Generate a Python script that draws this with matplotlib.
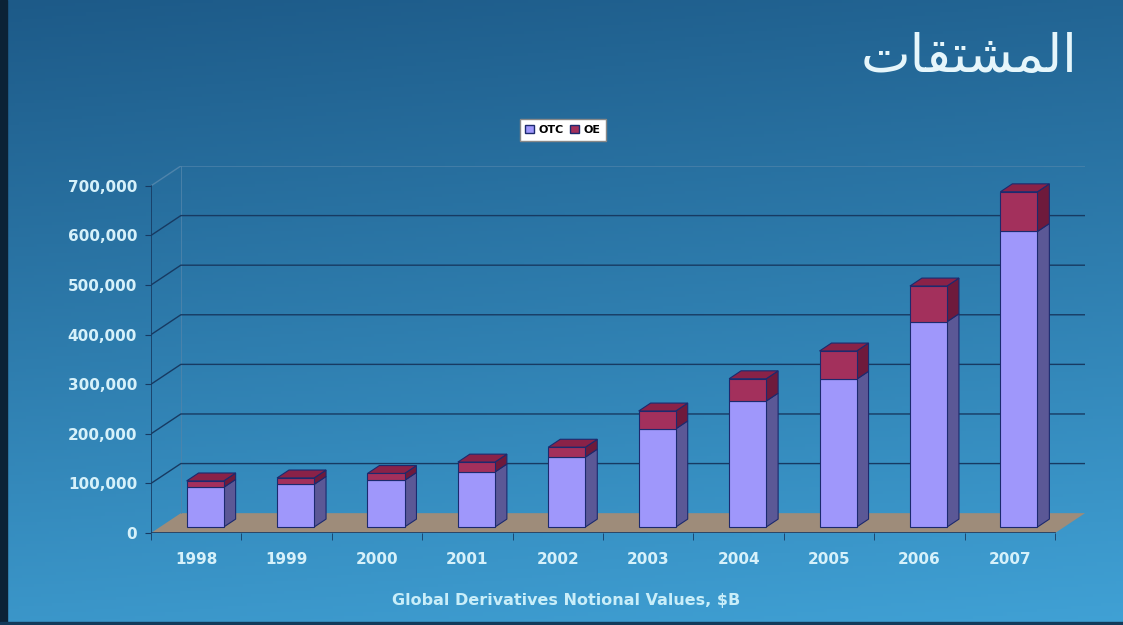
import numpy as np
import matplotlib.pyplot as plt
from matplotlib.patches import Polygon, Patch, Rectangle

years = ['1998', '1999', '2000', '2001', '2002', '2003', '2004', '2005', '2006', '2007']
otc = [80000, 86000, 94000, 111000, 141000, 198000, 254000, 298000, 414000, 596000]
oe = [13000, 13000, 14000, 20000, 20000, 36000, 45000, 57000, 72000, 80000]
yticks = [0, 100000, 200000, 300000, 400000, 500000, 600000, 700000]
title = '\ufe95\ufe8e\ufed8\ufe98\ufeb8\ufee4\ufedf\ufe8d'  # المشتقات (presentation forms, visual order)
xlabel = r'Global Derivatives Notional Values, \$B'

# 3d look
DX, DY = 0.33, 40000       # full depth offset in data units
d0, dd = 0.3, 0.4          # bar starts at 30% depth, bar depth 40%
w = 0.41

c_otc, c_otc_side = '#9f97fb', '#5b5896'
c_oe, c_oe_side, c_oe_top = '#a3305c', '#6e1a3c', '#8a2248'
edge = '#1c2a6e'
grid = '#173a62'
txt = '#d6f1fa'

W, H = 1123, 625
fig = plt.figure(figsize=(W / 100, H / 100), dpi=100)

# background gradient
bg = fig.add_axes([0, 0, 1, 1], zorder=-10)
yy = np.linspace(0, 1, 200)[:, None]
xx = np.linspace(0, 1, 300)[None, :]
top = np.array([29, 90, 136]) / 255
bot = np.array([64, 161, 213]) / 255
t = np.clip(yy * 0.85 + xx * 0.15, 0, 1)
img = top[None, None, :] * (1 - t[..., None]) + bot[None, None, :] * t[..., None]
bg.imshow(img, aspect='auto', extent=[0, 1, 1, 0])
bg.add_patch(Rectangle((0, 0), 0.006, 1, color='#0b2236', transform=bg.transAxes))
bg.add_patch(Rectangle((0, 0), 1, 0.005, color='#123a5a', transform=bg.transAxes))
bg.set_xlim(0, 1)
bg.set_ylim(1, 0)
bg.axis('off')

n = len(years)
ymax = yticks[-1]
ax = fig.add_axes([151 / W, (H - 533) / H, (1085 - 151) / W, (533 - 166) / H])
ax.set_xlim(0, n + DX)
ax.set_ylim(0, ymax + DY)
ax.patch.set_alpha(0)
for s in ax.spines.values():
    s.set_visible(False)

# floor
ax.add_patch(Polygon([(0, 0), (n, 0), (n + DX, DY), (DX, DY)],
                     closed=True, facecolor='#9e8c7a', edgecolor='none', zorder=1))
ax.plot([0, n], [0, 0], color=grid, lw=1.2, zorder=2)

# walls / gridlines
for v in yticks[1:]:
    c = grid if v < ymax else '#4f84ab'
    ax.plot([0, DX, n + DX], [v, v + DY, v + DY], color=c, lw=1, zorder=1.5)
ax.plot([DX, DX], [DY, ymax + DY], color='#4f84ab', lw=0.6, zorder=1.4)
ax.plot([0, 0], [0, ymax], color=grid, lw=1.2, zorder=2)

# bars
centers = np.arange(n) + 0.5
xf = centers + d0 * DX
base = d0 * DY
otc_a = np.array(otc)
oe_a = np.array(oe)
ax.bar(xf, otc_a, width=w, bottom=base, color=c_otc, edgecolor=edge, lw=0.8, zorder=5)
ax.bar(xf, oe_a, width=w, bottom=base + otc_a, color=c_oe, edgecolor=edge, lw=0.8, zorder=5)
ox, oy = dd * DX, dd * DY
for x, a, b in zip(xf, otc_a, oe_a):
    xr, xl = x + w / 2, x - w / 2
    for y0, y1, col in [(base, base + a, c_otc_side), (base + a, base + a + b, c_oe_side)]:
        ax.add_patch(Polygon([(xr, y0), (xr + ox, y0 + oy), (xr + ox, y1 + oy), (xr, y1)],
                             closed=True, facecolor=col, edgecolor=edge, lw=0.8, zorder=4))
    y1 = base + a + b
    ax.add_patch(Polygon([(xl, y1), (xl + ox, y1 + oy), (xr + ox, y1 + oy), (xr, y1)],
                         closed=True, facecolor=c_oe_top, edgecolor=edge, lw=0.8, zorder=4))

ax.set_yticks(yticks)
ax.set_yticklabels([f'{v:,}' for v in yticks], color=txt, fontsize=11, fontweight='heavy')
ax.set_xticks(centers)
ax.set_xticklabels(years, color=txt, fontsize=11, fontweight='heavy')
ax.set_xticks(np.arange(n + 1), minor=True)
ax.tick_params(axis='y', length=4, color=grid, pad=6)
ax.tick_params(axis='x', which='major', length=0, pad=14)
ax.tick_params(axis='x', which='minor', length=5, color=grid)

fig.text(566 / W, 1 - 600 / H, xlabel, ha='center', va='center',
         color='#c9eef9', fontsize=11.5, fontweight='bold')
fig.text(1077 / W, 1 - 57 / H, title, ha='right', va='center',
         color='#e6f6fb', fontsize=38, family='DejaVu Sans')

fig.legend(handles=[Patch(facecolor=c_otc, edgecolor=edge, label='OTC'),
                    Patch(facecolor=c_oe, edgecolor=edge, label='OE')],
           loc='center', bbox_to_anchor=(563 / W, 1 - 130 / H), ncol=2,
           frameon=True, fancybox=False, edgecolor='#888888', framealpha=1,
           handlelength=0.8, handleheight=0.8, handletextpad=0.4, columnspacing=0.6,
           borderpad=0.5, prop={'weight': 'bold', 'size': 8})

fig.savefig('out.png', dpi=100)
